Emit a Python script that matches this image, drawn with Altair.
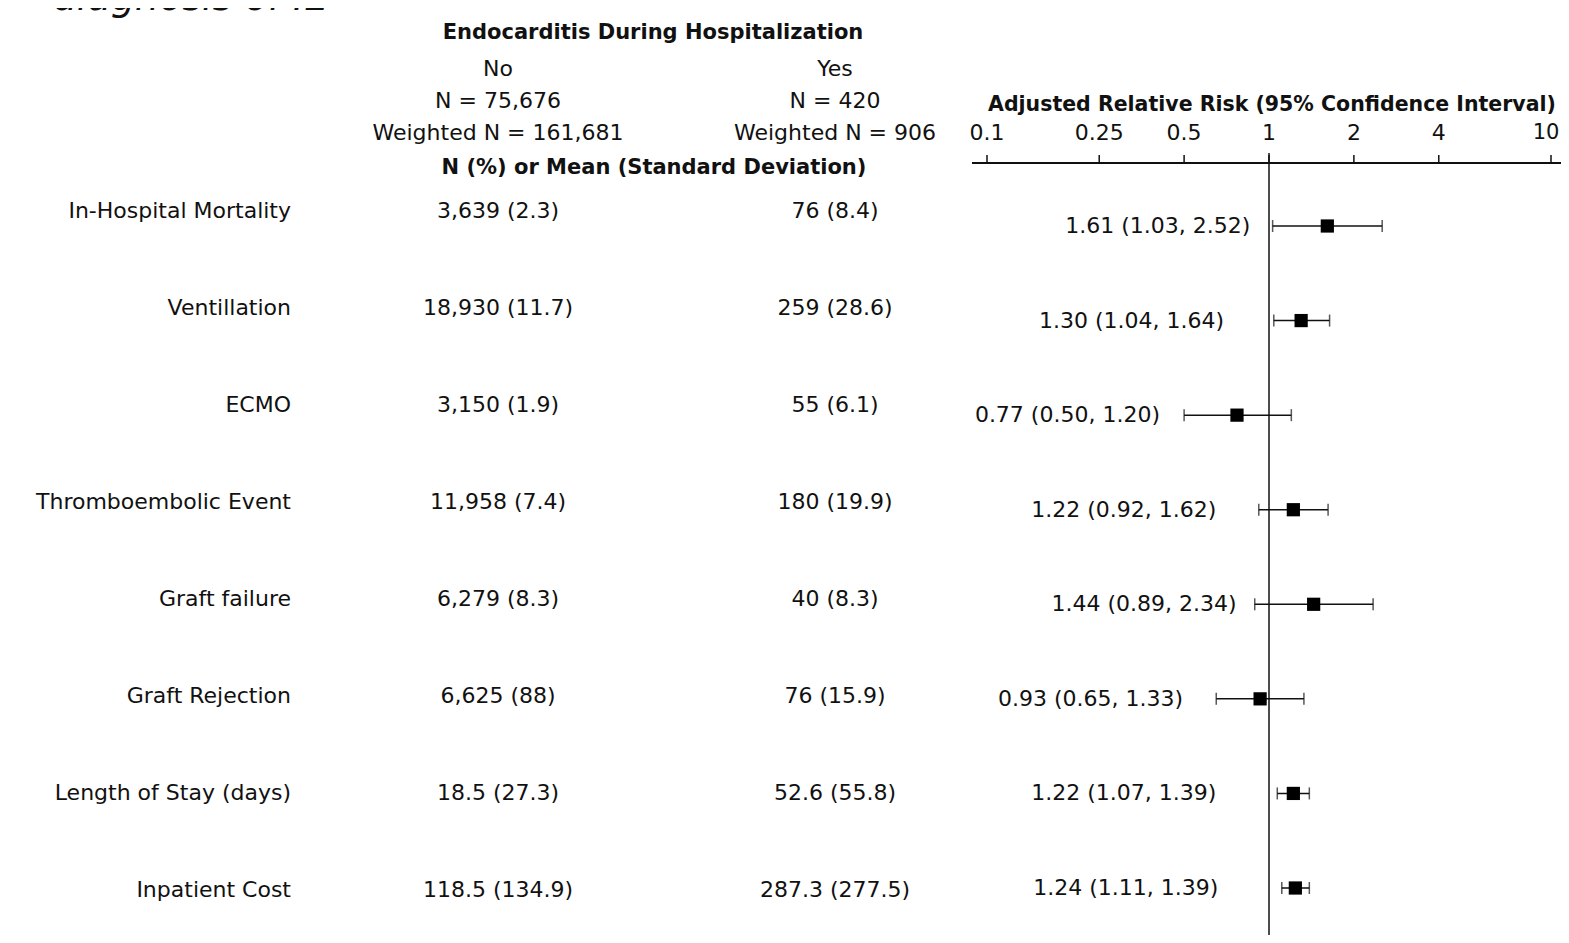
import altair as alt
import pandas as pd

# ---------------- data ----------------
outcomes = ["In-Hospital Mortality", "Ventillation", "ECMO", "Thromboembolic Event",
            "Graft failure", "Graft Rejection", "Length of Stay (days)", "Inpatient Cost"]
no_vals = ["3,639 (2.3)", "18,930 (11.7)", "3,150 (1.9)", "11,958 (7.4)",
           "6,279 (8.3)", "6,625 (88)", "18.5 (27.3)", "118.5 (134.9)"]
yes_vals = ["76 (8.4)", "259 (28.6)", "55 (6.1)", "180 (19.9)",
            "40 (8.3)", "76 (15.9)", "52.6 (55.8)", "287.3 (277.5)"]
rr = [1.61, 1.30, 0.77, 1.22, 1.44, 0.93, 1.22, 1.24]
lo = [1.03, 1.04, 0.50, 0.92, 0.89, 0.65, 1.07, 1.11]
hi = [2.52, 1.64, 1.20, 1.62, 2.34, 1.33, 1.39, 1.39]
rr_labels = ["1.61 (1.03, 2.52)", "1.30 (1.04, 1.64)", "0.77 (0.50, 1.20)", "1.22 (0.92, 1.62)",
             "1.44 (0.89, 2.34)", "0.93 (0.65, 1.33)", "1.22 (1.07, 1.39)", "1.24 (1.11, 1.39)"]
tick_values = [0.1, 0.25, 0.5, 1, 2, 4, 10]
tick_labels = ["0.1", "0.25", "0.5", "1", "2", "4", "10"]

header_top = "Endocarditis During Hospitalization"
header_no = ["No", "N = 75,676", "Weighted N = 161,681"]
header_yes = ["Yes", "N = 420", "Weighted N = 906"]
header_stat = "N (%) or Mean (Standard Deviation)"
forest_title = "Adjusted Relative Risk (95% Confidence Interval)"
cut_title = "diagnosis of IE"

table = pd.DataFrame({"outcome": outcomes, "no": no_vals, "yes": yes_vals})
forest = pd.DataFrame({"outcome": outcomes, "rr": rr, "lo": lo, "hi": hi, "label": rr_labels})
ticks = pd.DataFrame({"tick": tick_values, "tlabel": tick_labels})

FONT = "DejaVu Sans"
FS = 22
BFS = 21
INK = "#111111"

# ---------------- table ----------------
ty = alt.Y("outcome:N", sort=outcomes, axis=None,
           scale=alt.Scale(type="point", domain=outcomes, range=[203, 882], padding=0))

base_t = alt.Chart(table)
lab = base_t.mark_text(align="right", baseline="middle", font=FONT, fontSize=FS, color=INK).encode(
    y=ty, x=alt.value(283), text="outcome:N")
col_no = base_t.mark_text(align="center", baseline="middle", font=FONT, fontSize=FS, color=INK).encode(
    y=ty, x=alt.value(490), text="no:N")
col_yes = base_t.mark_text(align="center", baseline="middle", font=FONT, fontSize=FS, color=INK).encode(
    y=ty, x=alt.value(827), text="yes:N")


def txt(s, x, y, size=FS, weight="normal", align="center", baseline="middle", style="normal"):
    return alt.Chart(pd.DataFrame({"t": [s]})).mark_text(
        align=align, baseline=baseline, font=FONT, fontSize=size, fontWeight=weight,
        fontStyle=style, color=INK
    ).encode(x=alt.value(x), y=alt.value(y), text="t:N")


headers = [
    txt(cut_title, 45, 2, size=38, align="left", baseline="alphabetic", style="italic"),
    txt(header_top, 645, 25, size=BFS, weight="bold"),
    txt(header_no[0], 490, 61), txt(header_no[1], 490, 93), txt(header_no[2], 490, 125),
    txt(header_yes[0], 827, 61), txt(header_yes[1], 827, 93), txt(header_yes[2], 827, 125),
    txt(header_stat, 646, 160, size=BFS, weight="bold"),
    txt(forest_title, 1264, 97, size=20.5, weight="bold"),
]

# ---------------- forest ----------------
xs = alt.Scale(type="log", domain=[0.1, 10], range=[979, 1543], clamp=False)
fy = alt.Y("outcome:N", sort=outcomes, axis=None,
           scale=alt.Scale(type="point", domain=outcomes, range=[218, 880], padding=0))

fb = alt.Chart(forest)
ci = fb.mark_rule(color=INK, strokeWidth=1.5).encode(
    x=alt.X("lo:Q", scale=xs, axis=None), x2="hi:Q", y=fy)
cap_lo = fb.mark_tick(color=INK, thickness=1.5, size=12, orient="vertical").encode(
    x=alt.X("lo:Q", scale=xs, axis=None), y=fy)
cap_hi = fb.mark_tick(color=INK, thickness=1.5, size=12, orient="vertical").encode(
    x=alt.X("hi:Q", scale=xs, axis=None), y=fy)
pts = fb.mark_square(color="#000000", size=175, opacity=1).encode(
    x=alt.X("rr:Q", scale=xs, axis=None), y=fy)
flab = fb.mark_text(align="right", baseline="middle", font=FONT, fontSize=FS, color=INK, dx=-77).encode(
    x=alt.X("rr:Q", scale=xs, axis=None), y=fy, text="label:N")

tb = alt.Chart(ticks)
tick_marks = tb.mark_rule(color=INK, strokeWidth=1.5).encode(
    x=alt.X("tick:Q", scale=xs, axis=None), y=alt.value(147), y2=alt.value(155))
tick_text = tb.mark_text(align="center", baseline="middle", font=FONT, fontSize=FS, color=INK).encode(
    x=alt.X("tick:Q", scale=xs, axis=None), y=alt.value(125), text="tlabel:N"
).transform_filter(alt.datum.tick < 10)
tick_text_last = tb.mark_text(align="center", baseline="middle", font=FONT, fontSize=21, color=INK, dx=-5).encode(
    x=alt.X("tick:Q", scale=xs, axis=None), y=alt.value(125), text="tlabel:N"
).transform_filter(alt.datum.tick >= 10)
axis_line = tb.mark_rule(color=INK, strokeWidth=1.5).encode(
    x=alt.value(964), x2=alt.value(1553), y=alt.value(155))
ref_line = tb.mark_rule(color=INK, strokeWidth=1.5).encode(
    x=alt.X("datum_one:Q", scale=xs, axis=None), y=alt.value(145), y2=alt.value(927)
).transform_filter(alt.datum.tick == 1).transform_calculate(datum_one="datum.tick")

forest_layer = alt.layer(ci, cap_lo, cap_hi, pts, flab, tick_marks, tick_text, tick_text_last,
                         axis_line, ref_line)

chart = alt.layer(lab, col_no, col_yes, *headers, forest_layer).resolve_scale(
    x="independent", y="independent"
).properties(
    width=1553, height=927, padding=0,
    autosize=alt.AutoSizeParams(type="none"),
    background="white",
).configure_view(stroke=None)

chart.save("out.html", embed_options={"renderer": "svg", "actions": False})
